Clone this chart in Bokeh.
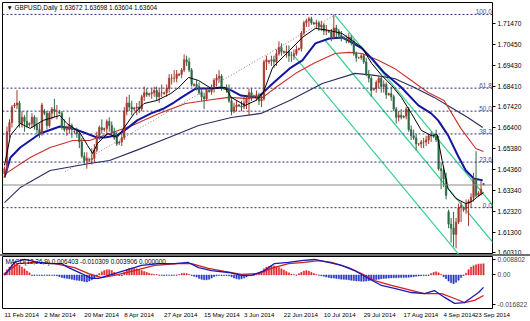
from bokeh.plotting import figure
from bokeh.models import (ColumnDataSource, FixedTicker, Label, Div, Range1d, PrintfTickFormatter, Span)
from bokeh.layouts import column
from bokeh.embed import file_html
from bokeh.resources import INLINE

# ---------------- data (GBPUSD daily, bar index 0 = 11 Feb 2014) ----------------
opens = [
    1.6415, 1.6440, 1.6620, 1.6665, 1.6745, 1.6750, 1.6760, 1.6660, 1.6690, 1.6670, 1.6655, 1.6660, 1.6690, 1.6650, 1.6630, 1.6610,
    1.6720, 1.6710, 1.6650, 1.6710, 1.6730, 1.6720, 1.6715, 1.6710, 1.6640, 1.6630, 1.6630, 1.6650, 1.6620, 1.6620, 1.6610, 1.6570,
    1.6500, 1.6480, 1.6480, 1.6485, 1.6490, 1.6530, 1.6600, 1.6640, 1.6630, 1.6635, 1.6670, 1.6650, 1.6620, 1.6590, 1.6565, 1.6570,
    1.6590, 1.6720, 1.6760, 1.6740, 1.6730, 1.6735, 1.6740, 1.6730, 1.6790, 1.6810, 1.6800, 1.6805, 1.6810, 1.6820, 1.6790, 1.6810,
    1.6805, 1.6810, 1.6830, 1.6880, 1.6880, 1.6880, 1.6895, 1.6900, 1.6920, 1.6970, 1.6960, 1.6920, 1.6845, 1.6850, 1.6840, 1.6810,
    1.6790, 1.6780, 1.6820, 1.6815, 1.6830, 1.6870, 1.6880, 1.6890, 1.6830, 1.6835, 1.6830, 1.6770, 1.6720, 1.6740, 1.6750, 1.6745,
    1.6740, 1.6760, 1.6780, 1.6810, 1.6790, 1.6795, 1.6800, 1.6770, 1.6780, 1.6960, 1.6960, 1.6965, 1.6970, 1.6960, 1.7000, 1.7030,
    1.7010, 1.7005, 1.7010, 1.6990, 1.6990, 1.7000, 1.7020, 1.7025, 1.7100, 1.7150, 1.7160, 1.7170, 1.7150, 1.7145, 1.7150, 1.7130,
    1.7140, 1.7110, 1.7110, 1.7105, 1.7080, 1.7125, 1.7110, 1.7090, 1.7080, 1.7075, 1.7070, 1.7080, 1.7060, 1.7000, 1.6980, 1.6980,
    1.6990, 1.6960, 1.6900, 1.6880, 1.6825, 1.6830, 1.6860, 1.6880, 1.6840, 1.6850, 1.6800, 1.6805, 1.6790, 1.6730, 1.6690, 1.6700,
    1.6690, 1.6695, 1.6730, 1.6630, 1.6600, 1.6590, 1.6560, 1.6560, 1.6570, 1.6570, 1.6580, 1.6600, 1.6600, 1.6595, 1.6580, 1.6440,
    1.6430, 1.6390, 1.6230, 1.6170, 1.6150, 1.6120, 1.6180, 1.6250, 1.6240, 1.6245, 1.6270, 1.6280, 1.6300, 1.6390, 1.6310, 1.6320, 1.63672,
]
highs = [
    1.6450, 1.6645, 1.6680, 1.6750, 1.6760, 1.6823, 1.6770, 1.6720, 1.6700, 1.6720, 1.6665, 1.6710, 1.6700, 1.6690, 1.6660, 1.6760,
    1.6730, 1.6720, 1.6720, 1.6740, 1.6780, 1.6750, 1.6725, 1.6720, 1.6680, 1.6650, 1.6690, 1.6660, 1.6630, 1.6640, 1.6620, 1.6590,
    1.6520, 1.6520, 1.6490, 1.6540, 1.6560, 1.6620, 1.6650, 1.6680, 1.6640, 1.6680, 1.6690, 1.6670, 1.6640, 1.6620, 1.6575, 1.6620,
    1.6740, 1.6790, 1.6800, 1.6770, 1.6740, 1.6760, 1.6770, 1.6800, 1.6840, 1.6830, 1.6810, 1.6830, 1.6840, 1.6840, 1.6830, 1.6850,
    1.6815, 1.6850, 1.6900, 1.6900, 1.6920, 1.6920, 1.6905, 1.6930, 1.6996, 1.6990, 1.6980, 1.6930, 1.6855, 1.6870, 1.6860, 1.6830,
    1.6810, 1.6830, 1.6825, 1.6850, 1.6880, 1.6900, 1.6920, 1.6900, 1.6840, 1.6850, 1.6850, 1.6790, 1.6760, 1.6770, 1.6755, 1.6770,
    1.6790, 1.6790, 1.6830, 1.6830, 1.6800, 1.6820, 1.6810, 1.6800, 1.6970, 1.6990, 1.6970, 1.6990, 1.6990, 1.7020, 1.7060, 1.7050,
    1.7015, 1.7040, 1.7040, 1.7010, 1.7020, 1.7040, 1.7030, 1.7110, 1.7160, 1.7170, 1.7180, 1.7180, 1.7155, 1.7165, 1.7160, 1.7160,
    1.7150, 1.7140, 1.7115, 1.7120, 1.7191, 1.7140, 1.7120, 1.7110, 1.7085, 1.7090, 1.7100, 1.7090, 1.7070, 1.7010, 1.6985, 1.7000,
    1.7000, 1.6980, 1.6920, 1.6890, 1.6835, 1.6870, 1.6890, 1.6890, 1.6870, 1.6860, 1.6810, 1.6840, 1.6800, 1.6740, 1.6720, 1.6730,
    1.6700, 1.6740, 1.6740, 1.6650, 1.6630, 1.6610, 1.6565, 1.6580, 1.6590, 1.6600, 1.6610, 1.6620, 1.6605, 1.6630, 1.6600, 1.6470,
    1.6450, 1.6420, 1.6240, 1.6200, 1.6230, 1.6200, 1.6270, 1.6280, 1.6250, 1.6290, 1.6290, 1.6320, 1.6420, 1.6525, 1.6330, 1.6380, 1.63698,
]
lows = [
    1.6395, 1.6420, 1.6590, 1.6640, 1.6735, 1.6730, 1.6640, 1.6640, 1.6620, 1.6640, 1.6645, 1.6640, 1.6630, 1.6610, 1.6590, 1.6600,
    1.6700, 1.6630, 1.6640, 1.6680, 1.6690, 1.6680, 1.6705, 1.6630, 1.6620, 1.6600, 1.6610, 1.6590, 1.6610, 1.6590, 1.6540, 1.6490,
    1.6460, 1.6440, 1.6470, 1.6460, 1.6470, 1.6520, 1.6580, 1.6610, 1.6620, 1.6600, 1.6620, 1.6600, 1.6580, 1.6550, 1.6555, 1.6550,
    1.6580, 1.6700, 1.6720, 1.6700, 1.6720, 1.6700, 1.6710, 1.6720, 1.6770, 1.6790, 1.6790, 1.6780, 1.6790, 1.6770, 1.6760, 1.6790,
    1.6800, 1.6790, 1.6810, 1.6850, 1.6860, 1.6860, 1.6890, 1.6880, 1.6910, 1.6940, 1.6910, 1.6840, 1.6840, 1.6820, 1.6800, 1.6770,
    1.6730, 1.6770, 1.6810, 1.6800, 1.6810, 1.6840, 1.6860, 1.6820, 1.6825, 1.6810, 1.6760, 1.6700, 1.6710, 1.6720, 1.6740, 1.6720,
    1.6730, 1.6730, 1.6700, 1.6770, 1.6785, 1.6770, 1.6750, 1.6740, 1.6770, 1.6920, 1.6950, 1.6940, 1.6930, 1.6940, 1.6990, 1.6990,
    1.7000, 1.6980, 1.6960, 1.6960, 1.6970, 1.6990, 1.7015, 1.7010, 1.7090, 1.7130, 1.7130, 1.7140, 1.7140, 1.7120, 1.7110, 1.7110,
    1.7090, 1.7090, 1.7100, 1.7060, 1.7070, 1.7080, 1.7070, 1.7060, 1.7070, 1.7050, 1.7050, 1.7040, 1.6990, 1.6960, 1.6975, 1.6970,
    1.6950, 1.6890, 1.6860, 1.6790, 1.6820, 1.6810, 1.6830, 1.6810, 1.6810, 1.6780, 1.6795, 1.6770, 1.6720, 1.6660, 1.6670, 1.6680,
    1.6685, 1.6680, 1.6620, 1.6580, 1.6580, 1.6530, 1.6550, 1.6540, 1.6540, 1.6550, 1.6560, 1.6570, 1.6590, 1.6570, 1.6430, 1.6340,
    1.6350, 1.6290, 1.6150, 1.6080, 1.6060, 1.6052, 1.6170, 1.6180, 1.6230, 1.6220, 1.6160, 1.6250, 1.6280, 1.6300, 1.6305, 1.6310, 1.63604,
]
closes = [
    1.6440, 1.6620, 1.6665, 1.6740, 1.6750, 1.6760, 1.6660, 1.6690, 1.6670, 1.6650, 1.6660, 1.6690, 1.6650, 1.6630, 1.6610, 1.6750,
    1.6710, 1.6650, 1.6710, 1.6730, 1.6720, 1.6720, 1.6710, 1.6640, 1.6630, 1.6630, 1.6650, 1.6630, 1.6620, 1.6610, 1.6570, 1.6500,
    1.6480, 1.6490, 1.6485, 1.6490, 1.6530, 1.6600, 1.6640, 1.6630, 1.6635, 1.6670, 1.6650, 1.6620, 1.6590, 1.6560, 1.6570, 1.6590,
    1.6720, 1.6760, 1.6740, 1.6730, 1.6735, 1.6740, 1.6730, 1.6790, 1.6810, 1.6800, 1.6805, 1.6810, 1.6820, 1.6790, 1.6810, 1.6810,
    1.6810, 1.6830, 1.6880, 1.6880, 1.6880, 1.6900, 1.6900, 1.6920, 1.6970, 1.6960, 1.6920, 1.6850, 1.6850, 1.6840, 1.6810, 1.6790,
    1.6780, 1.6820, 1.6815, 1.6830, 1.6870, 1.6880, 1.6890, 1.6830, 1.6835, 1.6830, 1.6770, 1.6720, 1.6740, 1.6750, 1.6745, 1.6740,
    1.6760, 1.6780, 1.6810, 1.6790, 1.6795, 1.6800, 1.6770, 1.6780, 1.6960, 1.6970, 1.6965, 1.6970, 1.6960, 1.7000, 1.7030, 1.7010,
    1.7005, 1.7010, 1.6990, 1.6990, 1.7000, 1.7020, 1.7025, 1.7100, 1.7150, 1.7160, 1.7170, 1.7150, 1.7145, 1.7150, 1.7130, 1.7140,
    1.7110, 1.7110, 1.7105, 1.7080, 1.7125, 1.7110, 1.7090, 1.7080, 1.7075, 1.7070, 1.7080, 1.7060, 1.7000, 1.6980, 1.6980, 1.6990,
    1.6960, 1.6900, 1.6880, 1.6820, 1.6830, 1.6860, 1.6880, 1.6840, 1.6850, 1.6800, 1.6805, 1.6790, 1.6730, 1.6690, 1.6700, 1.6690,
    1.6695, 1.6730, 1.6630, 1.6600, 1.6590, 1.6560, 1.6560, 1.6570, 1.6570, 1.6580, 1.6600, 1.6600, 1.6595, 1.6580, 1.6440, 1.6430,
    1.6390, 1.6310, 1.6170, 1.6150, 1.6120, 1.6180, 1.6250, 1.6260, 1.6245, 1.6270, 1.6280, 1.6300, 1.6390, 1.6310, 1.6320, 1.6340, 1.63604,
]

# moving averages: (bar index, price)
ma_fast_bar = [0, 2.4, 6.3, 10.3, 15.5, 22.2, 25, 30.2, 33.3, 35.3, 37.3, 41.3, 45.2, 48, 52, 55.9, 61.1, 66.7, 69.8, 73.8,
               77.8, 82.9, 88.5, 90.9, 96.4, 100.8, 103.6, 107.5, 114.3, 119.4, 124.6, 130.2, 135.3, 139.3, 143.3, 147.2,
               151.2, 155.2, 159.1, 163.1, 167.1, 171, 173.4, 175.4, 177.8, 180.9, 184.9, 187.3, 189.7, 192]
ma_fast_val = [1.6456, 1.6602, 1.6660, 1.6636, 1.6675, 1.6699, 1.6660, 1.6616, 1.6553, 1.6514, 1.6563, 1.6611, 1.6592, 1.6640,
               1.6709, 1.6757, 1.6772, 1.6806, 1.6835, 1.6884, 1.6869, 1.6830, 1.6835, 1.6787, 1.6748, 1.6772, 1.6806, 1.6933,
               1.7016, 1.7079, 1.7123, 1.7113, 1.7098, 1.7064, 1.7030, 1.6952, 1.6894, 1.6845, 1.6787, 1.6709, 1.6626, 1.6602,
               1.6606, 1.6480, 1.6343, 1.6295, 1.6270, 1.6280, 1.6304, 1.6324]
ma_mid_bar = [0, 2.4, 6.3, 14.3, 22.2, 27.4, 32.9, 36.9, 40.1, 45.2, 49.2, 53.2, 58.7, 63.9, 67.9, 71, 76.6, 82.9, 86.9, 90.9,
              94.8, 101.6, 107.5, 114.3, 119.4, 124.6, 130.2, 135.3, 139.3, 143.3, 147.2, 152.4, 159.1, 165.9, 171, 173.8,
              177.8, 181.7, 184.9, 188.1, 191.7]
ma_mid_val = [1.6397, 1.6494, 1.6543, 1.6611, 1.6645, 1.6636, 1.6611, 1.6592, 1.6592, 1.6602, 1.6636, 1.6675, 1.6709, 1.6733,
              1.6762, 1.6787, 1.6830, 1.6830, 1.6835, 1.6821, 1.6796, 1.6787, 1.6855, 1.6928, 1.6967, 1.7050, 1.7074, 1.7079,
              1.7054, 1.7025, 1.6977, 1.6904, 1.6835, 1.6748, 1.6709, 1.6675, 1.6602, 1.6504, 1.6431, 1.6392, 1.6383]
ma_slow_bar = [0, 10.3, 18.3, 27.4, 34.1, 42.1, 51.2, 61.9, 72.6, 80.6, 89.7, 96.4, 103.6, 108.7, 116.7, 124.6, 132.5, 138.1,
               143.3, 150, 156.3, 163.1, 169.8, 176.2, 182.9, 188.9, 192]
ma_slow_val = [1.6412, 1.6494, 1.6543, 1.6577, 1.6577, 1.6611, 1.6650, 1.6709, 1.6757, 1.6772, 1.6787, 1.6782, 1.6787, 1.6835,
               1.6904, 1.6957, 1.7001, 1.7006, 1.7001, 1.6967, 1.6928, 1.6869, 1.6811, 1.6772, 1.6636, 1.6538, 1.6524]
ma_long_bar = [0, 6.3, 18.3, 34.1, 42.1, 52.8, 65.9, 77.8, 90.9, 102.8, 114.3, 127.4, 140.5, 148.4, 156.3, 164.3, 172.2, 179,
               185.7, 191.7]
ma_long_val = [1.6275, 1.6348, 1.6431, 1.6465, 1.6480, 1.6529, 1.6592, 1.6650, 1.6689, 1.6709, 1.6772, 1.6855, 1.6904, 1.6894,
               1.6879, 1.6835, 1.6787, 1.6738, 1.6689, 1.6640]

# Fibonacci retracement levels
fib_names = ["100.0", "61.8", "50.0", "38.2", "23.6", "0.0"]
fib_prices = [1.7191, 1.6832, 1.6720, 1.6609, 1.6472, 1.6250]
last_price = 1.63604

# channel lines (start bar, start price, end bar, end price)
chan_bar0 = [132.5, 128.6, 115.9]
chan_p0 = [1.7186, 1.7064, 1.6991]
chan_bar1 = [196.8, 196.8, 182.1]
chan_p1 = [1.6246, 1.6066, 1.6022]
trend_bar = [24.2, 132.1]
trend_p = [1.6425, 1.7186]

price_ticks = [1.71470, 1.70450, 1.69430, 1.68410, 1.67420, 1.66400, 1.65380, 1.64360, 1.63340, 1.62320, 1.61300, 1.60310]

date_ticks = [0, 16, 32, 48, 64, 80, 96, 112, 128, 144, 160, 176, 192]
date_labels = ["11 Feb 2014", "2 Mar 2014", "20 Mar 2014", "8 Apr 2014", "27 Apr 2014", "15 May 2014", "3 Jun 2014",
               "22 Jun 2014", "10 Jul 2014", "29 Jul 2014", "17 Aug 2014", "4 Sep 2014", "23 Sep 2014"]

# MACD panel
macd_hist = [
    0.0010, 0.0030, 0.0045, 0.0058, 0.0065, 0.0062, 0.0055, 0.0045, 0.0035, 0.0022, 0.0012, -0.0003, -0.0003, -0.0002, -0.0003, -0.0003,
    -0.0002, -0.0003, -0.0003, -0.0002, -0.0003, -0.0005, -0.0010, -0.0015, -0.0018, -0.0020, -0.0022, -0.0025, -0.0028, -0.0030, -0.0032, -0.0035,
    -0.0038, -0.0040, -0.0035, -0.0028, -0.0018, -0.0008, 0.0008, 0.0018, 0.0025, 0.0030, 0.0030, 0.0025, 0.0015, 0.0005, -0.0003, -0.0005,
    0.0015, 0.0030, 0.0038, 0.0040, 0.0038, 0.0035, 0.0030, 0.0025, 0.0020, 0.0015, 0.0010, 0.0006, 0.0003, 0.0002, -0.0002, -0.0002,
    -0.0003, -0.0002, -0.0002, -0.0003, -0.0002, -0.0002, 0.0003, 0.0008, 0.0010, 0.0008, 0.0003, -0.0003, -0.0008, -0.0012, -0.0020, -0.0025,
    -0.0028, -0.0028, -0.0025, -0.0018, -0.0010, -0.0005, -0.0003, -0.0003, -0.0003, -0.0003, -0.0005, -0.0010, -0.0018, -0.0022, -0.0024, -0.0022,
    -0.0018, -0.0012, -0.0005, -0.0003, -0.0002, 0.0005, 0.0012, 0.0020, 0.0035, 0.0045, 0.0050, 0.0053, 0.0052, 0.0048, 0.0042, 0.0035,
    0.0028, 0.0020, 0.0012, 0.0005, 0.0002, -0.0002, 0.0008, 0.0015, 0.0022, 0.0025, 0.0022, 0.0015, 0.0008, 0.0003, -0.0002, -0.0005,
    -0.0008, -0.0012, -0.0015, -0.0018, -0.0018, -0.0020, -0.0022, -0.0024, -0.0025, -0.0026, -0.0028, -0.0030, -0.0032, -0.0034, -0.0035, -0.0036,
    -0.0036, -0.0035, -0.0033, -0.0030, -0.0028, -0.0026, -0.0024, -0.0022, -0.0020, -0.0019, -0.0018, -0.0017, -0.0016, -0.0016, -0.0015, -0.0015,
    -0.0014, -0.0014, -0.0013, -0.0012, -0.0010, -0.0008, -0.0006, -0.0004, -0.0003, -0.0003, -0.0003, 0.0008, 0.0015, 0.0018, 0.0012, 0.0003,
    -0.0010, -0.0022, -0.0035, -0.0045, -0.0050, -0.0042, -0.0030, -0.0015, -0.0003, 0.0010, 0.0030, 0.0045, 0.0052, 0.0058, 0.0062, 0.0063, 0.0064,
]
macd_main_bar = [0, 4, 8, 13.6, 18.8, 22.8, 25.7, 30.9, 34.9, 37.7, 41.7, 48.1, 54.9, 61.7, 68.1, 73.7, 77.8, 83, 89.8, 95, 99,
                 104.2, 108.2, 113.8, 119, 124.2, 129.9, 135.1, 140.3, 145.9, 151.1, 156.3, 163.1, 168.3, 172.3, 176.4, 180.4,
                 184.4, 187.2, 190, 192]
macd_main_val = [-0.0003, 0.0071, 0.0088, 0.0071, 0.0065, 0.0065, 0.0042, 0.0008, -0.0020, -0.0020, -0.0003, 0.0025, 0.0054,
                 0.0065, 0.0065, 0.0071, 0.0042, 0.0025, 0.0014, -0.0003, -0.0003, 0.0025, 0.0065, 0.0071, 0.0082, 0.0088,
                 0.0071, 0.0054, 0.0025, -0.0020, -0.0060, -0.0077, -0.0100, -0.0106, -0.0089, -0.0128, -0.0162, -0.0157,
                 -0.0128, -0.0100, -0.0071]
macd_sig_bar = [0, 5.6, 12, 20, 28.1, 33.7, 38.9, 44.1, 52.1, 60.1, 69.7, 74.9, 81.8, 88.2, 95, 101.8, 107, 113.8, 120.2, 125.9,
                131.1, 137.9, 143.1, 148.3, 155.1, 161.9, 168.3, 175.2, 180.4, 184.4, 188.4, 192]
macd_sig_val = [0.0008, 0.0065, 0.0071, 0.0065, 0.0042, 0.0008, -0.0015, -0.0003, 0.0025, 0.0054, 0.0065, 0.0065, 0.0037,
                0.0020, 0.0003, 0.0008, 0.0037, 0.0065, 0.0071, 0.0082, 0.0071, 0.0042, 0.0008, -0.0032, -0.0060, -0.0083,
                -0.0106, -0.0106, -0.0134, -0.0157, -0.0145, -0.0117]
macd_ticks = [0.008802, 0.0, -0.016822]
macd_tick_labels = ["0.008802", "0.00", "-0.016822"]

# ---------------- styling ----------------
FONT = "Arial"
FS = "6.4px"
DATE_FS = 6.2
UP_COL = "#a33a30"
DN_COL = "#2e6a45"
X_START, X_END = -0.8, 195.6
FRAME_W = 495.0
BAR_PX = FRAME_W / (X_END - X_START)
MACD_LO, MACD_HI = -0.0191, 0.0105

# Arial advance widths (1/1000 em), used to start each date label at its bar like the terminal does
ARIAL_W = {" ": 278, "A": 667, "F": 611, "J": 500, "M": 833, "S": 667, "a": 556, "b": 556, "e": 556, "g": 556,
           "l": 222, "n": 556, "p": 556, "r": 333, "u": 556, "y": 500}


def text_px(s, size):
    return sum(ARIAL_W.get(ch, 556) for ch in s) * size / 1000.0


n = len(closes)
idx = list(range(n))
cols = [UP_COL if c >= o else DN_COL for o, c in zip(opens, closes)]
src = ColumnDataSource(dict(
    x=idx, o=opens, h=highs, l=lows, c=closes,
    top=[max(o, c) for o, c in zip(opens, closes)],
    bot=[min(o, c) for o, c in zip(opens, closes)],
    col=cols,
))

p = figure(width=530, height=254, x_range=Range1d(X_START, X_END), y_range=Range1d(1.6022, 1.7249),
           output_backend="svg", toolbar_location=None, x_axis_location=None, y_axis_location="right",
           min_border_left=2, min_border_top=2, min_border_bottom=0, min_border_right=33)
p.grid.visible = False
p.outline_line_color = "black"
p.outline_line_width = 1
p.background_fill_color = "white"

ax = p.yaxis[0]
ax.ticker = FixedTicker(ticks=price_ticks)
ax.formatter = PrintfTickFormatter(format="%.5f")
ax.major_label_text_font = FONT
ax.major_label_text_font_size = "6.6px"
ax.major_label_text_color = "black"
ax.major_tick_out = 3
ax.major_tick_in = 0
ax.minor_tick_line_color = None
ax.axis_line_color = None
ax.major_label_standoff = 2

# fib levels
for name, fp in zip(fib_names, fib_prices):
    p.add_layout(Span(location=fp, dimension="width", line_color="#2b2b7a", line_dash="2 2", line_width=1))
    p.add_layout(Label(x=X_END - 0.3, y=fp, text=name, text_align="right", text_baseline="bottom",
                       text_font=FONT, text_font_size=FS, text_color="#4a4aa6"))

# current price line
p.add_layout(Span(location=last_price, dimension="width", line_color="#8c8c8c", line_width=1))

# trend line (dotted) and channel
p.line(trend_bar, trend_p, line_color="#b07070", line_dash="1 2", line_width=1)
p.segment(x0=chan_bar0, y0=chan_p0, x1=chan_bar1, y1=chan_p1, line_color="#3ccf92", line_width=1.2)

# moving averages
p.line(ma_long_bar, ma_long_val, line_color="#2c2c5e", line_width=1.1)
p.line(ma_slow_bar, ma_slow_val, line_color="#c8302a", line_width=1.1)
p.line(ma_mid_bar, ma_mid_val, line_color="#1414a0", line_width=2)

# candles
p.segment(x0="x", y0="l", x1="x", y1="h", source=src, line_color="col", line_width=1)
p.vbar(x="x", width=0.6, top="top", bottom="bot", source=src, fill_color="col", line_color="col", line_width=0.6)

p.line(ma_fast_bar, ma_fast_val, line_color="black", line_width=1)

# header text and price box
p.add_layout(Label(x=X_START + 1.6, y=1.7224, text="\u25bc GBPUSD,Daily  1.63672 1.63698 1.63604 1.63604",
                   text_baseline="middle", text_font=FONT, text_font_size=FS, text_color="black"))
p.add_layout(Label(x=X_END + 1.0, y=last_price, text=" 1.63604 ", text_baseline="middle", text_align="left",
                   text_font=FONT, text_font_size="6.6px", text_color="white", background_fill_color="black"))

sep = Div(width=530, height=2, margin=0, styles={"background-color": "#707070"})

# MACD panel
m = figure(width=530, height=65, x_range=p.x_range, y_range=Range1d(MACD_LO, MACD_HI),
           output_backend="svg", toolbar_location=None, y_axis_location="right",
           min_border_left=2, min_border_top=0, min_border_bottom=13, min_border_right=33)
m.grid.visible = False
m.outline_line_color = "black"

hsrc = ColumnDataSource(dict(x=idx, v=macd_hist, z=[0.0] * n,
                             col=["#e02828" if v > 0 else "#2233c8" for v in macd_hist]))
m.vbar(x="x", width=0.5, top="v", bottom="z", source=hsrc, fill_color="col", line_color="col", line_width=0.5)
m.line(macd_sig_bar, macd_sig_val, line_color="#d02020", line_width=1.3)
m.line(macd_main_bar, macd_main_val, line_color="#1a1ab4", line_width=1.3)

my = m.yaxis[0]
my.ticker = FixedTicker(ticks=macd_ticks)
my.major_label_overrides = {t: s for t, s in zip(macd_ticks, macd_tick_labels)}
my.major_label_text_font = FONT
my.major_label_text_font_size = "6.6px"
my.major_tick_out = 3
my.major_tick_in = 0
my.minor_tick_line_color = None
my.axis_line_color = None
my.major_label_standoff = 2

# date labels: each centred half its width to the right of its bar, so it starts at the bar
# (the last one is kept inside the axis range so that it is still drawn)
label_pos = [round(min(t + text_px(s, DATE_FS) / 2.0 / BAR_PX, X_END - 0.05), 3)
             for t, s in zip(date_ticks, date_labels)]
mx = m.xaxis[0]
mx.ticker = FixedTicker(ticks=label_pos)
mx.major_label_overrides = {pos: s for pos, s in zip(label_pos, date_labels)}
mx.major_label_text_font = FONT
mx.major_label_text_font_size = "%.1fpx" % DATE_FS
mx.major_label_text_color = "black"
mx.major_label_standoff = 2
mx.major_tick_out = 0
mx.major_tick_in = 0
mx.major_tick_line_color = None
mx.minor_tick_line_color = None
mx.axis_line_color = None

m.add_layout(Label(x=X_START + 1.2, y=0.0077, text="MACD(12,26,9) 0.006403 -0.010309 0.003906 0.000000",
                   text_baseline="middle", text_font=FONT, text_font_size=FS, text_color="black"))

layout = column(p, sep, m, spacing=0)
open("out.html", "w").write(file_html(layout, INLINE))
